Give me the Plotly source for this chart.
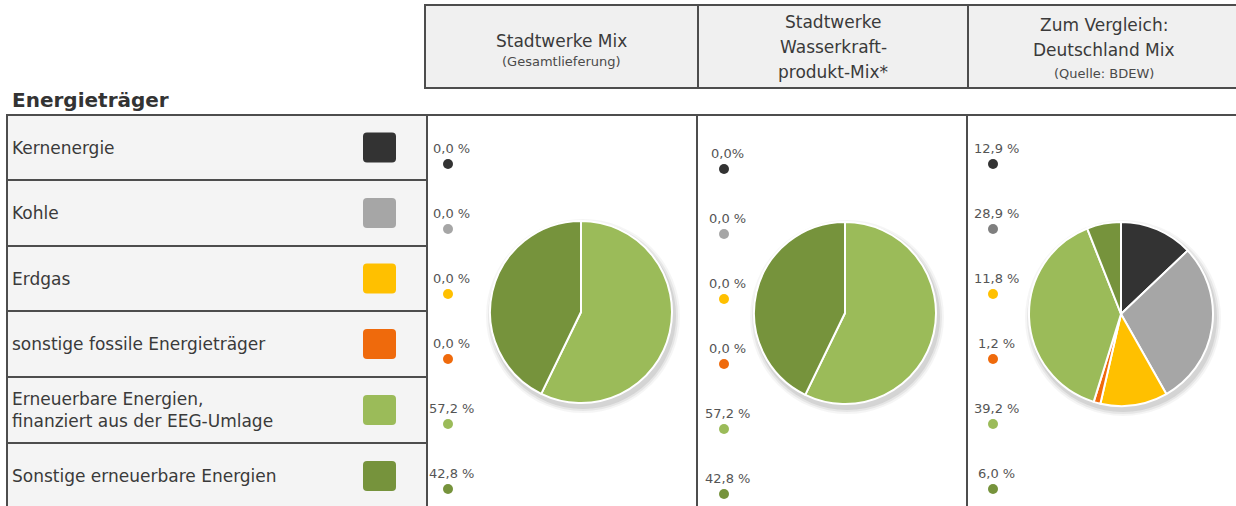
import plotly.graph_objects as go

# ---------------- data ----------------
sources = ["Kernenergie", "Kohle", "Erdgas", "sonstige fossile Energieträger",
           "Erneuerbare Energien,<br>finanziert aus der EEG-Umlage",
           "Sonstige erneuerbare Energien"]
colors = ["#333333", "#a6a6a6", "#ffc000", "#ef6a0c", "#9bbb59", "#76933c"]
dot_colors_de = ["#333333", "#7f7f7f", "#ffc000", "#ef6a0c", "#9bbb59", "#76933c"]

values_mix = [0.0, 0.0, 0.0, 0.0, 57.2, 42.8]
values_wasser = [0.0, 0.0, 0.0, 0.0, 57.2, 42.8]
values_de = [12.9, 28.9, 11.8, 1.2, 39.2, 6.0]

labels_mix = ["0,0 %", "0,0 %", "0,0 %", "0,0 %", "57,2 %", "42,8 %"]
labels_wasser = ["0,0%", "0,0 %", "0,0 %", "0,0 %", "57,2 %", "42,8 %"]
labels_de = ["12,9 %", "28,9 %", "11,8 %", "1,2 %", "39,2 %", "6,0 %"]

headers = [
    (["Stadtwerke Mix"], ["(Gesamtlieferung)"]),
    (["Stadtwerke", "Wasserkraft-", "produkt-Mix*"], []),
    (["Zum Vergleich:", "Deutschland Mix"], ["(Quelle: BDEW)"]),
]
title_text = "Energieträger"

# ---------------- layout helpers ----------------
W, H = 1236, 506
FONT = "DejaVu Sans"
BORDER = "#4d4d4d"
TXT = "#3a3a3a"


def X(p):
    return p / W


def Y(p):
    return 1 - p / H


shapes = []


def rect(x0, y0, x1, y1, fill, line=BORDER, lw=2, layer="below"):
    shapes.append(dict(type="rect", xref="paper", yref="paper",
                       x0=X(x0), x1=X(x1), y0=Y(y1), y1=Y(y0),
                       fillcolor=fill, line=dict(color=line, width=lw), layer=layer))


def rounded(x0, y0, x1, y1, r, fill):
    pts = [
        f"M {X(x0 + r)},{Y(y0)}",
        f"L {X(x1 - r)},{Y(y0)}",
        f"Q {X(x1)},{Y(y0)} {X(x1)},{Y(y0 + r)}",
        f"L {X(x1)},{Y(y1 - r)}",
        f"Q {X(x1)},{Y(y1)} {X(x1 - r)},{Y(y1)}",
        f"L {X(x0 + r)},{Y(y1)}",
        f"Q {X(x0)},{Y(y1)} {X(x0)},{Y(y1 - r)}",
        f"L {X(x0)},{Y(y0 + r)}",
        f"Q {X(x0)},{Y(y0)} {X(x0 + r)},{Y(y0)} Z",
    ]
    shapes.append(dict(type="path", xref="paper", yref="paper", path=" ".join(pts),
                       fillcolor=fill, line=dict(width=0), layer="below"))


annotations = []


def text(x, y, s, size=15, color=TXT, xanchor="left", bold=False):
    if bold:
        s = "<b>" + s + "</b>"
    annotations.append(dict(x=X(x), y=Y(y), xref="paper", yref="paper", text=s,
                            showarrow=False, xanchor=xanchor, yanchor="middle",
                            align="left" if xanchor == "left" else "center",
                            font=dict(family=FONT, size=size, color=color)))


# header boxes
col_edges = [425, 698, 968, 1240]
for i, (big, small) in enumerate(headers):
    rect(col_edges[i], 5, col_edges[i + 1], 88, "#f0f0f0")
    cx = (col_edges[i] + col_edges[i + 1]) / 2
    nb = len(big)
    if nb == 1:
        ys_big, ys_small = [41], [62]
    elif nb == 2:
        ys_big, ys_small = [25, 50], [73]
    else:
        ys_big, ys_small = [22, 47, 72], []
    for s, yy in zip(big, ys_big):
        text(cx, yy, s, size=17, xanchor="center")
    for s, yy in zip(small, ys_small):
        text(cx, yy, s, size=13, xanchor="center", color="#4a4a4a")

# title
text(10, 100, title_text, size=20, bold=True, color="#333333")

# left table rows
row_tops = [115, 180, 246, 311, 377, 443, 515]
for i, name in enumerate(sources):
    y0, y1 = row_tops[i], row_tops[i + 1]
    rect(7, y0, 427, y1, "#f4f4f4")
    ym = (y0 + y1) / 2 if i < 5 else 476
    text(10, ym, name, size=17)
    rounded(363, ym - 15, 396, ym + 15, 4, colors[i])

# data panels
panel_edges = [427, 697, 967, 1240]
for i in range(3):
    rect(panel_edges[i], 115, panel_edges[i + 1], 515, "#ffffff")

# pies
pie_geo = [(581, 312, 91), (845, 313, 91), (1121, 314, 92)]
pie_values = [values_mix, values_wasser, values_de]
pie_names = ["Stadtwerke Mix", "Stadtwerke Wasserkraftprodukt-Mix", "Deutschland Mix"]

fig = go.Figure()
for (cx, cy, r), vals, nm in zip(pie_geo, pie_values, pie_names):
    # soft shadow
    for k, a in [(6, 0.04), (4, 0.06), (2, 0.08)]:
        shapes.append(dict(type="circle", xref="paper", yref="paper",
                           x0=X(cx - r - k + 2), x1=X(cx + r + k + 2),
                           y0=Y(cy + r + k + 4), y1=Y(cy - r - k + 4),
                           fillcolor="rgba(0,0,0,%.2f)" % a, line=dict(width=0),
                           layer="below"))
    fig.add_trace(go.Pie(
        labels=[s.replace("<br>", " ") for s in sources], values=vals, name=nm,
        marker=dict(colors=colors, line=dict(color="#ffffff", width=2)),
        sort=False, direction="clockwise", rotation=0, textinfo="none",
        domain=dict(x=[X(cx - r), X(cx + r)], y=[Y(cy + r), Y(cy - r)]),
        showlegend=False, hoverinfo="label+percent"))

# value dots with labels
dot_x = [448, 724, 993]
dot_start = [164, 169, 164]
pitch = 65
panel_labels = [labels_mix, labels_wasser, labels_de]
panel_dot_colors = [colors, colors, dot_colors_de]
for j in range(3):
    ys = [dot_start[j] + k * pitch for k in range(len(sources))]
    fig.add_trace(go.Scatter(
        x=[dot_x[j]] * len(sources), y=ys, mode="markers",
        marker=dict(color=panel_dot_colors[j], size=10, line=dict(width=0)),
        text=panel_labels[j], showlegend=False, hoverinfo="text",
        xaxis="x", yaxis="y"))
    for yy, lab in zip(ys, panel_labels[j]):
        annotations.append(dict(x=dot_x[j], y=yy, xref="x", yref="y", text=lab,
                                showarrow=False, xanchor="center", yanchor="middle",
                                xshift=3, yshift=16,
                                font=dict(family=FONT, size=13, color="#555555")))

fig.update_layout(
    width=W, height=H, margin=dict(l=0, r=0, t=0, b=0),
    paper_bgcolor="#ffffff", plot_bgcolor="rgba(0,0,0,0)",
    shapes=shapes, annotations=annotations,
    xaxis=dict(range=[0, W], domain=[0, 1], visible=False, fixedrange=True),
    yaxis=dict(range=[H, 0], domain=[0, 1], visible=False, fixedrange=True),
    showlegend=False,
)

fig.write_html("out.html", config={"displayModeBar": False},
               post_script="document.body.style.margin='0';"
                           "document.body.style.overflow='hidden';")
